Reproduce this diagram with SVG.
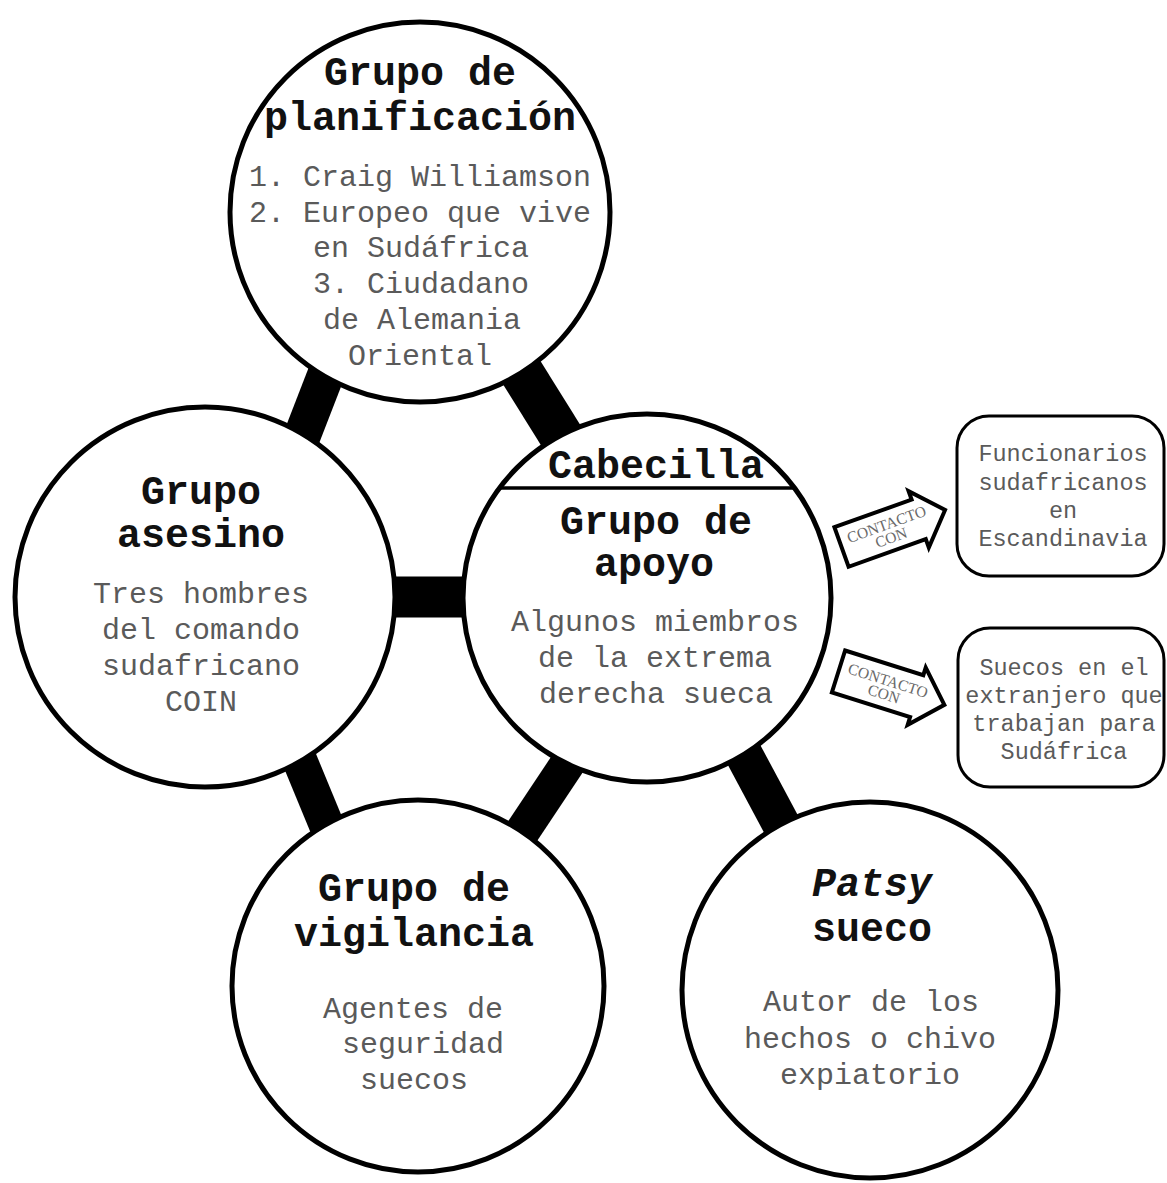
<svg xmlns="http://www.w3.org/2000/svg" width="1167" height="1183" viewBox="0 0 1167 1183">
<style>
.c{fill:#fff;stroke:#000;stroke-width:5}
.b{stroke:#000;stroke-linecap:butt}
.t{font-family:"Liberation Mono","Courier New",monospace;font-weight:bold;font-size:40px;fill:#111;text-anchor:middle}
.x{font-family:"Liberation Mono","Courier New",monospace;font-size:30px;fill:#5a5a5a;text-anchor:middle}
.s{font-family:"Liberation Mono","Courier New",monospace;font-size:23.5px;fill:#5a5a5a;text-anchor:middle}
.a{fill:#fff;stroke:#000;stroke-width:4;stroke-linejoin:miter}
.at{font-family:"Liberation Serif","Times New Roman",serif;font-size:15.5px;fill:#6a6a6a;text-anchor:middle}
.r{fill:#fff;stroke:#000;stroke-width:3}
</style>
<rect width="1167" height="1183" fill="#fff"/>
<g id="connectors">
<line class="b" x1="337.6" y1="344.2" x2="294.4" y2="455.8" stroke-width="37"/>
<line class="b" x1="508.2" y1="351" x2="571.8" y2="453" stroke-width="44"/>
<line class="b" x1="380" y1="597" x2="480" y2="597" stroke-width="41"/>
<line class="b" x1="289.2" y1="734.8" x2="334.8" y2="845.2" stroke-width="35"/>
<line class="b" x1="575.3" y1="752" x2="508.7" y2="852" stroke-width="35"/>
<line class="b" x1="737.8" y1="743.2" x2="794.2" y2="848.8" stroke-width="38"/>
<g id="arrow1" transform="translate(841.5,547) rotate(-19.7)">
<path class="a" d="M0,-21 L82,-21 L82,-30 L110,0 L82,30 L82,21 L0,21 Z"/>
<text class="at" x="50" y="-1">CONTACTO</text>
<text class="at" x="50" y="13">CON</text>
</g>
<g id="arrow2" transform="translate(838.5,671.5) rotate(17.5)">
<path class="a" d="M0,-22 L82,-22 L82,-30 L111,0 L82,30 L82,22 L0,22 Z"/>
<text class="at" x="50" y="-1">CONTACTO</text>
<text class="at" x="50" y="13">CON</text>
</g>
</g>
<g id="planificacion">
<circle class="c" cx="420" cy="212" r="190"/>
<text class="t" x="420" y="85">Grupo de</text>
<text class="t" x="420" y="130">planificación</text>
<text class="x" x="420" y="186">1. Craig Williamson</text>
<text class="x" x="420" y="222">2. Europeo que vive</text>
<text class="x" x="421" y="257">en Sudáfrica</text>
<text class="x" x="421" y="293">3. Ciudadano</text>
<text class="x" x="422" y="329">de Alemania</text>
<text class="x" x="420" y="365">Oriental</text>
</g>
<g id="asesino">
<circle class="c" cx="205" cy="597" r="190"/>
<text class="t" x="201" y="504">Grupo</text>
<text class="t" x="201" y="547">asesino</text>
<text class="x" x="201" y="603">Tres hombres</text>
<text class="x" x="201" y="639">del comando</text>
<text class="x" x="201" y="675">sudafricano</text>
<text class="x" x="201" y="711">COIN</text>
</g>
<g id="apoyo">
<circle class="c" cx="647" cy="598" r="184"/>
<line x1="499.5" y1="488" x2="794.5" y2="488" stroke="#000" stroke-width="3.5"/>
<text class="t" x="656" y="478">Cabecilla</text>
<text class="t" x="656" y="534">Grupo de</text>
<text class="t" x="654" y="576">apoyo</text>
<text class="x" x="655" y="631">Algunos miembros</text>
<text class="x" x="655" y="667">de la extrema</text>
<text class="x" x="656" y="703">derecha sueca</text>
</g>
<g id="vigilancia">
<circle class="c" cx="418" cy="986" r="186"/>
<text class="t" x="414" y="901">Grupo de</text>
<text class="t" x="414" y="946">vigilancia</text>
<text class="x" x="413" y="1018">Agentes de</text>
<text class="x" x="423" y="1053">seguridad</text>
<text class="x" x="414" y="1089">suecos</text>
</g>
<g id="patsy">
<circle class="c" cx="870" cy="990" r="188"/>
<text class="t" x="872" y="896" font-style="italic">Patsy</text>
<text class="t" x="872" y="941">sueco</text>
<text class="x" x="871" y="1011">Autor de los</text>
<text class="x" x="870" y="1048">hechos o chivo</text>
<text class="x" x="870" y="1084">expiatorio</text>
</g>
<g id="funcionarios">
<rect class="r" x="957" y="416" width="207" height="160" rx="32"/>
<text class="s" x="1063" y="461">Funcionarios</text>
<text class="s" x="1063" y="490">sudafricanos</text>
<text class="s" x="1063" y="518">en</text>
<text class="s" x="1063" y="546">Escandinavia</text>
</g>
<g id="suecos">
<rect class="r" x="958" y="628" width="206" height="159" rx="32"/>
<text class="s" x="1064" y="675">Suecos en el</text>
<text class="s" x="1064" y="703">extranjero que</text>
<text class="s" x="1064" y="731">trabajan para</text>
<text class="s" x="1064" y="759">Sudáfrica</text>
</g>
</svg>
